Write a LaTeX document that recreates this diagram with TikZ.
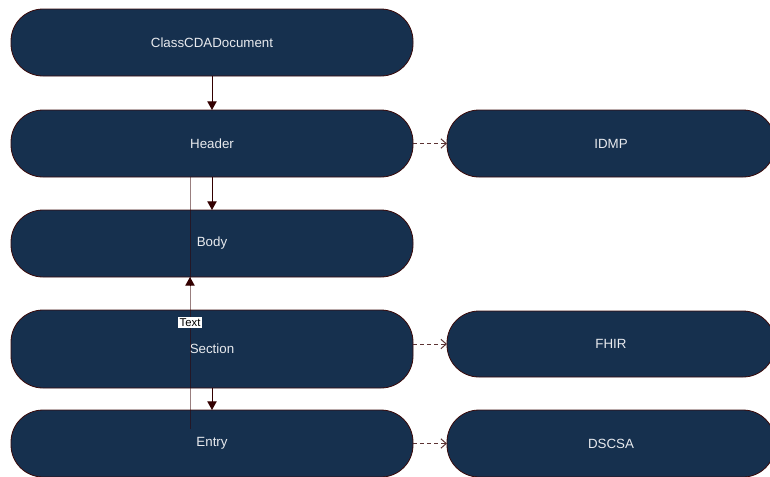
\documentclass[tikz,border=0pt]{standalone}
\usepackage{fontspec}
\setmainfont{Liberation Sans}
\usetikzlibrary{arrows.meta}
\definecolor{boxfill}{HTML}{16304E}
\definecolor{boxline}{HTML}{3A0A0A}
\definecolor{boxtext}{HTML}{E8EAEE}
\definecolor{edgecol}{HTML}{330000}
\tikzset{
  stage/.style={draw=boxline, line width=0.6pt, fill=boxfill, text=boxtext,
    rounded corners=24pt, inner sep=0pt, outer sep=0pt,
    minimum width=301.5pt, minimum height=50.25pt, font=\fontsize{10}{12}\selectfont},
  target/.style={stage, minimum width=246pt},
  down/.style={draw=edgecol, line width=0.75pt, -{Triangle[length=6.5pt,width=7pt]}},
  maps/.style={draw=edgecol!80!white, line width=0.75pt, dash pattern=on 3pt off 2.25pt,
    -{Straight Barb[length=4pt,width=7pt]}},
  link/.style={draw=edgecol, draw opacity=0.5, line width=0.75pt},
  tag/.style={fill=white, text=black, inner sep=1pt, font=\fontsize{8.5}{10}\selectfont}
}
\begin{document}
\begin{tikzpicture}[x=0.75pt, y=-0.75pt]
\useasboundingbox (0,0) rectangle (770,476);
% document chain
\node[stage] (cda)     at (212,42.5)  {ClassCDADocument};
\node[stage] (header)  at (212,143.5) {Header};
\node[stage] (body)    at (212,243.5) {Body};
\node[stage, minimum height=58.5pt] (section) at (212,349) {Section};
\node[stage] (entry)   at (212,443.5) {Entry};
% mapped standards
\node[target] (idmp)  at (611,143.5) {IDMP};
\node[target, minimum height=49.5pt] (fhir) at (611,344) {FHIR};
\node[target] (dscsa) at (611,443.5) {DSCSA};
% hierarchy arrows
\draw[down] (cda) -- (header);
\draw[down] (header) -- (body);
\draw[down] (section) -- (entry);
% mappings
\draw[maps] (header) -- (idmp);
\draw[maps] (section.east |- fhir.west) -- (fhir.west);
\draw[maps] (entry) -- (dscsa);
% back reference from entry
\coordinate (eb) at (190,429);
\draw[link] (eb) -- (body.south -| eb) node[tag, pos=0.7, opacity=1, text opacity=1] {Text};
\draw[link] (body.south -| eb) -- (header.south -| eb);
\draw[draw=edgecol, line width=0.75pt, -{Triangle[length=6.5pt,width=7pt]}]
  ([yshift=-7pt]body.south -| eb) -- (body.south -| eb);
\end{tikzpicture}
\end{document}
